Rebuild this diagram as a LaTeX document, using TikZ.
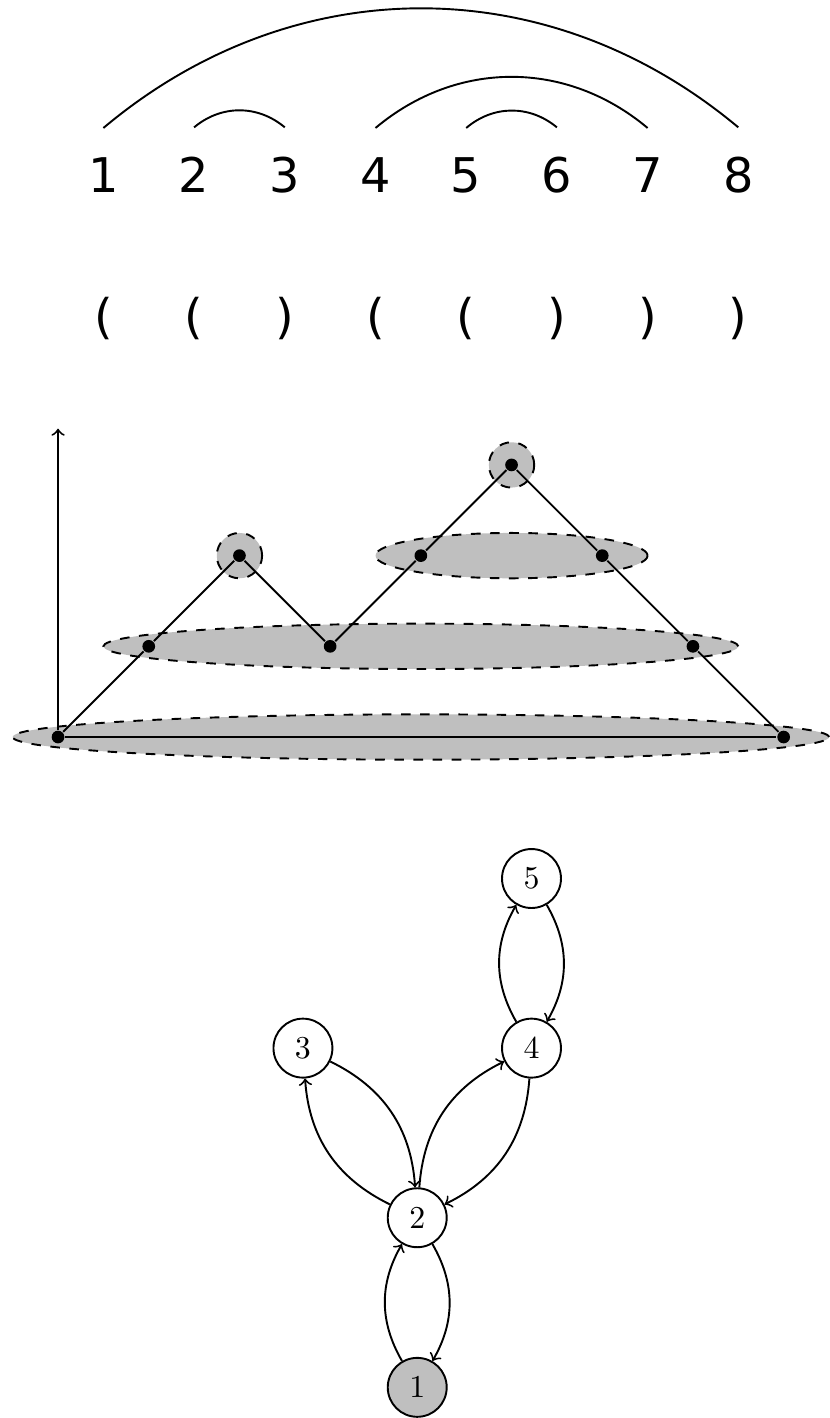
\documentclass[tikz,border=0pt]{standalone}
\usepackage{fontspec}
\newfontfamily\seqfont{DejaVu Sans}
\usetikzlibrary{positioning}

\begin{document}
\begin{tikzpicture}[
  semithick,
  num/.style={anchor=base, inner xsep=0pt, inner ysep=3.2mm, font=\seqfont\fontsize{15}{18}\selectfont},
  paren/.style={anchor=base, inner sep=0pt, font=\seqfont\fontsize{15}{18}\selectfont},
  pairarc/.style={bend left=40},
  band/.style={draw, dashed, fill=lightgray},
  dot/.style={circle, fill=black, inner sep=0pt, minimum size=1.4mm},
  vertex/.style={circle, draw, minimum size=6.5mm, inner sep=0pt},
]
\useasboundingbox (-0.64,-7.508) rectangle (8.51,8.126);

% positions and their matching
\node[num] (n1) at (0.5,6) {1};
\node[num] (n2) at (1.5,6) {2};
\node[num] (n3) at (2.5,6) {3};
\node[num] (n4) at (3.5,6) {4};
\node[num] (n5) at (4.5,6) {5};
\node[num] (n6) at (5.5,6) {6};
\node[num] (n7) at (6.5,6) {7};
\node[num] (n8) at (7.5,6) {8};
\draw (n1.north) to[pairarc] (n8.north);
\draw (n2.north) to[pairarc] (n3.north);
\draw (n4.north) to[pairarc] (n7.north);
\draw (n5.north) to[pairarc] (n6.north);

% bracket word
\node[paren] (b1) at (0.5,4.45) {(};
\node[paren] (b2) at (1.5,4.45) {(};
\node[paren] (b3) at (2.5,4.45) {)};
\node[paren] (b4) at (3.5,4.45) {(};
\node[paren] (b5) at (4.5,4.45) {(};
\node[paren] (b6) at (5.5,4.45) {)};
\node[paren] (b7) at (6.5,4.45) {)};
\node[paren] (b8) at (7.5,4.45) {)};

% mountain with its levels
\draw[band] (4,0) ellipse (4.5 and 0.25);
\draw[band] (4,1) ellipse (3.5 and 0.25);
\draw[band] (5,2) ellipse (1.5 and 0.25);
\draw[band] (2,2) circle (0.25);
\draw[band] (5,3) circle (0.25);
\node[dot] (p0) at (0,0) {};
\node[dot] (p1) at (1,1) {};
\node[dot] (p2) at (2,2) {};
\node[dot] (p3) at (3,1) {};
\node[dot] (p4) at (4,2) {};
\node[dot] (p5) at (5,3) {};
\node[dot] (p6) at (6,2) {};
\node[dot] (p7) at (7,1) {};
\node[dot] (p8) at (8,0) {};
\coordinate (yaxis) at (0,3.4);
\draw[->] (p0) -- (yaxis);
\draw (p0) -- (p8);
\draw (p0) -- (p1) -- (p2) -- (p3) -- (p4) -- (p5) -- (p6) -- (p7) -- (p8);

% tree
\node[vertex, fill=lightgray] (t1) at (3.96,-7.17) {1};
\node[vertex, on grid, above=1.87 of t1] (t2) {2};
\node[vertex, on grid, above left=1.87 and 1.26 of t2] (t3) {3};
\node[vertex, on grid, above right=1.87 and 1.26 of t2] (t4) {4};
\node[vertex, on grid, above=1.87 of t4] (t5) {5};
\draw[->] (t1) to[bend left=30] (t2);
\draw[->] (t2) to[bend left=30] (t1);
\draw[->] (t2) to[bend left=30] (t3);
\draw[->] (t3) to[bend left=30] (t2);
\draw[->] (t2) to[bend left=30] (t4);
\draw[->] (t4) to[bend left=30] (t2);
\draw[->] (t4) to[bend left=30] (t5);
\draw[->] (t5) to[bend left=30] (t4);
\end{tikzpicture}
\end{document}
